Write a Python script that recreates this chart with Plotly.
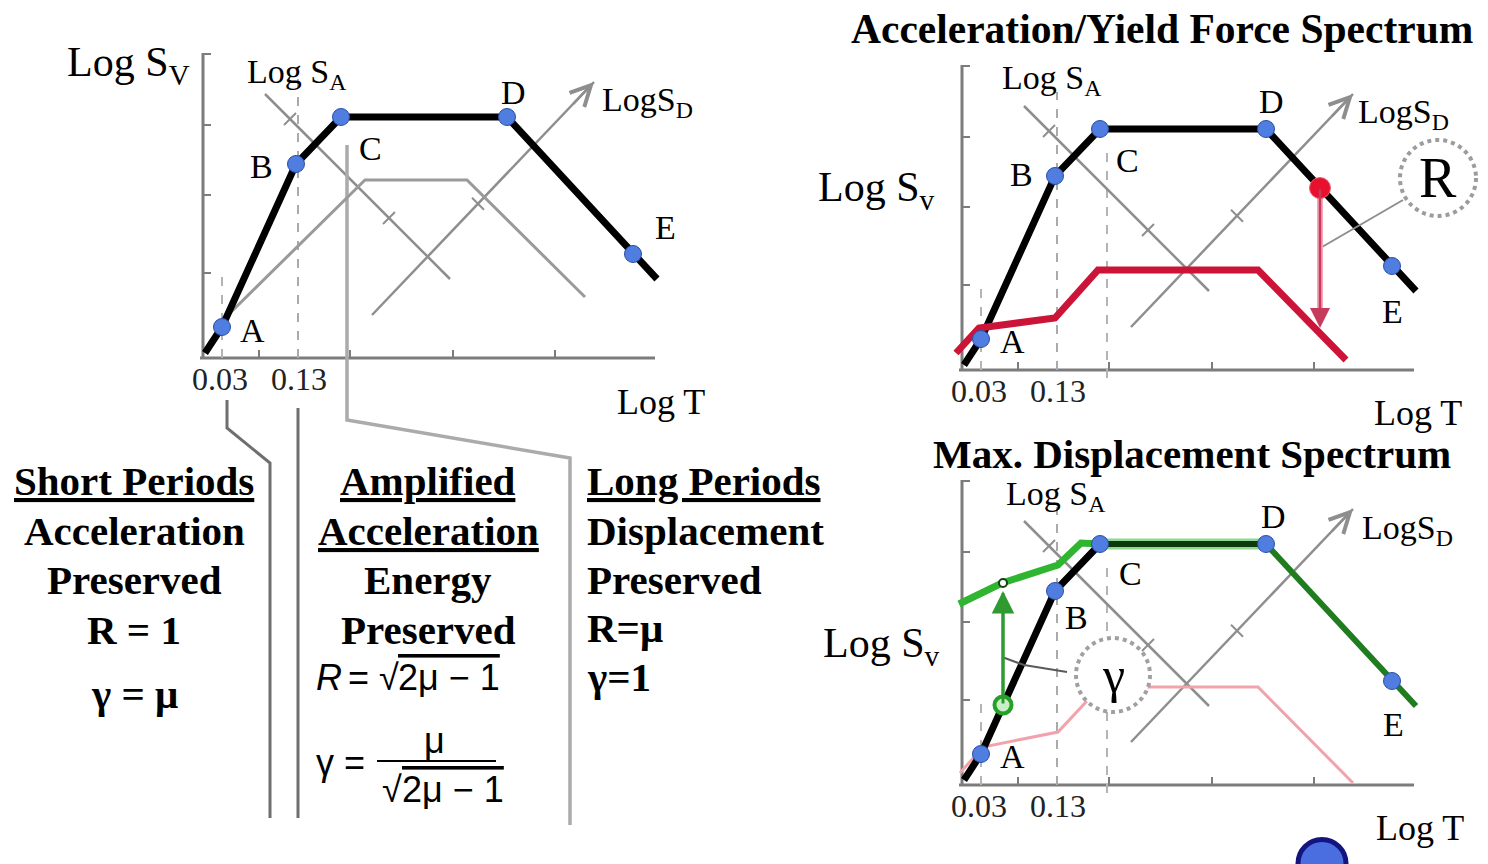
import numpy as np
import plotly.graph_objects as go

W, H, PX = 1488, 864, 100.0
SERIF = "Liberation Serif"
SANS = "Liberation Sans"

# ---------------- data (schematic log-log units) ----------------
# elastic spectrum: start, A, B, C, D, E, end
spec_logT = [0.02, 0.19, 0.93, 1.38, 3.04, 4.30, 4.54]
spec_logSv = [0.05, 0.31, 1.94, 2.41, 2.41, 1.04, 0.79]
corner_names = ["A", "B", "C", "D", "E"]
corner_idx = [1, 2, 3, 4, 5]

# reduced (inelastic) spectrum shown in grey on the left diagram
gray_logT = [0.22, 1.62, 2.64, 3.82]
gray_logSv = [0.40, 1.78, 1.78, 0.61]

# yield force spectrum (red)
red_logT = [-0.06, 0.17, 0.93, 1.36, 2.96, 3.84]
red_logSv = [0.17, 0.42, 0.52, 1.00, 1.00, 0.10]

# same spectrum repeated faintly in the displacement diagram (pink)
pink_logT = [-0.02, 0.21, 0.96, 1.38, 2.96, 3.91]
pink_logSv = [0.12, 0.38, 0.53, 0.98, 0.98, 0.02]

# max displacement spectrum, short-period branch (green)
green_logT = [-0.03, 0.40, 0.96, 1.19, 1.38]
green_logSv = [1.81, 2.02, 2.20, 2.42, 2.41]

# tripartite axes
sa_axis_logT = [0.62, 2.47]
sa_axis_logSv = [2.64, 0.79]
sa_tick_logT = [0.87, 1.86]
sd_axis_logT = [1.69, 3.91]
sd_axis_logSv = [0.43, 2.76]
sd_tick_logT = [2.75]

x_axis_span = [-0.03, 4.52]
y_axis_top = 3.05
x_tick_vals = [0.56, 1.47, 2.50, 3.52]
y_tick_vals = [0.85, 1.63, 2.33, 3.04]
period_tick_vals = [0.17, 0.96]
period_tick_text = ["0.03", "0.13"]
guide_03_logT, guide_03_top = 0.19, 0.85
guide_13_logT, guide_13_top = 0.95, 2.90
guide_C_logT = 1.45

# reduction factor R and amplification factor gamma
R_logT, R_from, R_to = 3.58, 1.82, 0.42
gamma_logT, gamma_from, gamma_to = 0.41, 0.80, 2.02

# period-range brackets under the left diagram
br1_T, br1_S = [0.24, 0.24, 0.67, 0.67], [-0.42, -0.70, -1.05, -4.60]
br2_T, br2_S = [0.95, 0.95], [-0.50, -4.60]
br3_T, br3_S = [1.44, 1.44, 3.67, 3.67], [2.13, -0.62, -1.00, -4.67]

# text of the three period ranges
col1 = ["Short Periods", "Acceleration", "Preserved", "R = 1", "γ = μ"]
col2 = ["Amplified", "Acceleration", "Energy", "Preserved"]
col3 = ["Long Periods", "Displacement", "Preserved", "R=μ", "γ=1"]

# ---------------- panels ----------------
PANELS = {
    "left": dict(ax=("x", "y"), sfx="", origin=(203, 358), box=(0, 0, 790, 864)),
    "acc": dict(ax=("x2", "y2"), sfx="2", origin=(962, 370), box=(790, 0, 1488, 425)),
    "disp": dict(ax=("x3", "y3"), sfx="3", origin=(962, 785), box=(790, 425, 1488, 864)),
}

fig = go.Figure()
lay = {}
for p in PANELS.values():
    ox, oy = p["origin"]
    x0, y0, x1, y1 = p["box"]
    s = p["sfx"]
    lay["xaxis" + s] = dict(domain=[x0 / W, x1 / W], range=[(x0 - ox) / PX, (x1 - ox) / PX],
                            visible=False, fixedrange=True, anchor="y" + s)
    lay["yaxis" + s] = dict(domain=[1 - y1 / H, 1 - y0 / H], range=[(oy - y1) / PX, (oy - y0) / PX],
                            visible=False, fixedrange=True, anchor="x" + s)
fig.update_layout(**lay)

AXIS = "#7c7c7c"
GUIDE = "#8e8e8e"


def lines(p, xs, ys, color, width, dash="solid"):
    xa, ya = PANELS[p]["ax"]
    fig.add_trace(go.Scatter(x=xs, y=ys, mode="lines", xaxis=xa, yaxis=ya,
                             line=dict(color=color, width=width, dash=dash),
                             hoverinfo="skip", showlegend=False))


def markers(p, xs, ys, size, color, lcolor, lwidth, symbol="circle"):
    xa, ya = PANELS[p]["ax"]
    fig.add_trace(go.Scatter(x=xs, y=ys, mode="markers", xaxis=xa, yaxis=ya, cliponaxis=False,
                             marker=dict(size=size, color=color, symbol=symbol,
                                         line=dict(color=lcolor, width=lwidth)),
                             hoverinfo="skip", showlegend=False))


def label(p, x, y, text, size, xanchor="center", yanchor="middle", xshift=0, yshift=0,
          family=SERIF, color="black"):
    xa, ya = PANELS[p]["ax"]
    fig.add_annotation(x=x, y=y, xref=xa, yref=ya, text=text, showarrow=False,
                       font=dict(family=family, size=size, color=color),
                       xanchor=xanchor, yanchor=yanchor, xshift=xshift, yshift=yshift)


def arrow(p, xt, yt, xh, yh, color, width, head, size):
    xa, ya = PANELS[p]["ax"]
    fig.add_annotation(x=xh, y=yh, ax=xt, ay=yt, xref=xa, yref=ya, axref=xa, ayref=ya,
                       text="", showarrow=True, arrowhead=head, arrowsize=size,
                       arrowwidth=width, arrowcolor=color, standoff=0, startstandoff=0)


def paper_text(px, py, text, size, xanchor="center", family=SERIF, weight="normal",
               lineposition="none", style="normal"):
    fig.add_annotation(x=px / W, y=1 - py / H, xref="paper", yref="paper", text=text,
                       showarrow=False,
                       font=dict(family=family, size=size, color="black", weight=weight,
                                 lineposition=lineposition, style=style),
                       xanchor=xanchor, yanchor="middle")


def frame(p, left_style=False):
    # axes
    lines(p, x_axis_span, [0, 0], AXIS, 3)
    lines(p, [0, 0], [0, y_axis_top], AXIS, 3)
    tx, ty = [], []
    for v in x_tick_vals:
        tx += [v, v, None]
        ty += [0, 0.08, None]
    for v in y_tick_vals:
        tx += [0, 0.08, None]
        ty += [v, v, None]
    lines(p, tx, ty, AXIS, 2)
    xa, ya = PANELS[p]["ax"]
    fig.add_trace(go.Scatter(x=period_tick_vals, y=[-0.24] * len(period_tick_vals), mode="text",
                             text=period_tick_text, xaxis=xa, yaxis=ya, cliponaxis=False,
                             textfont=dict(family=SERIF, size=32, color="#222"),
                             hoverinfo="skip", showlegend=False))
    # guide verticals
    lines(p, [guide_03_logT, guide_03_logT], [0, guide_03_top], "#b4b4b4", 2, "dash")
    top13 = guide_13_top if left_style else 2.78
    lines(p, [guide_13_logT, guide_13_logT], [0, top13], "#aaaaaa", 2, "dash")
    if not left_style:
        lines(p, [guide_C_logT, guide_C_logT], [-0.08, 2.18], "#b4b4b4", 2, "dash")
    # tripartite SA / SD axes
    lines(p, sa_axis_logT, sa_axis_logSv, GUIDE, 2.5)
    lines(p, sd_axis_logT, sd_axis_logSv, GUIDE, 2.5)
    ksa = (sa_axis_logSv[1] - sa_axis_logSv[0]) / (sa_axis_logT[1] - sa_axis_logT[0])
    ksd = (sd_axis_logSv[1] - sd_axis_logSv[0]) / (sd_axis_logT[1] - sd_axis_logT[0])
    kx, ky = [], []
    d = 0.06
    for t in sa_tick_logT:
        s = sa_axis_logSv[0] + ksa * (t - sa_axis_logT[0])
        kx += [t - d, t + d, None]
        ky += [s - d, s + d, None]
    for t in sd_tick_logT:
        s = sd_axis_logSv[0] + ksd * (t - sd_axis_logT[0])
        kx += [t - d, t + d, None]
        ky += [s + d, s - d, None]
    lines(p, kx, ky, GUIDE, 2)
    f = 0.9
    arrow(p, sd_axis_logT[0] + f * (sd_axis_logT[1] - sd_axis_logT[0]),
          sd_axis_logSv[0] + f * (sd_axis_logSv[1] - sd_axis_logSv[0]),
          sd_axis_logT[1], sd_axis_logSv[1], GUIDE, 2.5, 5, 1.6)


def corner_labels(p, shifts):
    for name, i in zip(corner_names, corner_idx):
        dx, dy = shifts[name]
        label(p, spec_logT[i], spec_logSv[i], name, 34, xshift=dx, yshift=dy)


def axis_labels(p, sv_pos, sv_sub, sa_pos, sd_pos, t_pos):
    label(p, sv_pos[0], sv_pos[1], "Log S<sub>%s</sub>" % sv_sub, 42, xanchor="right")
    label(p, sa_pos[0], sa_pos[1], "Log S<sub>A</sub>", 34, xanchor="left")
    label(p, sd_pos[0], sd_pos[1], "LogS<sub>D</sub>", 34, xanchor="left")
    label(p, t_pos[0], t_pos[1], "Log T", 36, xanchor="left")


cx = [spec_logT[i] for i in corner_idx]
cy = [spec_logSv[i] for i in corner_idx]
BLUE, BLUE_EDGE = "#4f7de0", "#2b4ea8"

# ================= left diagram =================
frame("left", left_style=True)
lines("left", br3_T, br3_S, "#ababab", 3.5)
lines("left", br1_T, br1_S, "#6f6f6f", 3)
lines("left", br2_T, br2_S, "#6f6f6f", 3)
lines("left", gray_logT, gray_logSv, "#9a9a9a", 3)
lines("left", spec_logT, spec_logSv, "black", 7)
markers("left", cx, cy, 17, BLUE, BLUE_EDGE, 1)
corner_labels("left", {"A": (30, -3), "B": (-35, -2), "C": (29, -31), "D": (6, 25), "E": (32, 27)})
axis_labels("left", (-0.11, 2.93), "V", (0.42, 2.84), (3.97, 2.56), (4.12, -0.44))

# ================= acceleration / yield force spectrum =================
frame("acc")
lines("acc", spec_logT, spec_logSv, "black", 7)
lines("acc", red_logT, red_logSv, "#cc1438", 7)
lines("acc", [4.41, R_logT + 0.02], [1.70, 1.23], GUIDE, 2)
lines("acc", [R_logT, R_logT], [R_from, R_to + 0.1], "#f2a9b8", 6)
arrow("acc", R_logT, R_from, R_logT, R_to, "#c83a5c", 2.5, 2, 1.6)
markers("acc", cx, cy, 17, BLUE, BLUE_EDGE, 1)
markers("acc", [R_logT], [R_from], 21, "#e8112d", "#f06070", 1)
corner_labels("acc", {"A": (31, -2), "B": (-34, 2), "C": (27, -31), "D": (5, 28), "E": (0, -45)})
axis_labels("acc", (-0.25, 1.80), "v", (0.38, 2.90), (3.94, 2.56), (4.10, -0.43))
fig.add_shape(type="circle", xref="x2", yref="y2", x0=4.38, x1=5.14, y0=1.54, y1=2.30,
              line=dict(color="#9c9c9c", width=4, dash="dot"), fillcolor="white", layer="above")
label("acc", 4.76, 1.92, "R", 56)

# ================= max displacement spectrum =================
frame("disp")
lines("disp", pink_logT, pink_logSv, "#f1a3ab", 3)
lines("disp", spec_logT[:4], spec_logSv[:4], "black", 7)
lines("disp", spec_logT[3:5], spec_logSv[3:5], "#8fd88f", 11)
lines("disp", spec_logT[3:5], spec_logSv[3:5], "#0d3a0d", 6)
lines("disp", spec_logT[4:], spec_logSv[4:], "#1f7d1f", 6)
lines("disp", green_logT, green_logSv, "#2fb52f", 7)
lines("disp", [1.05, 0.62, 0.40], [1.13, 1.20, 1.28], "#5a5a5a", 2)
lines("disp", [gamma_logT, gamma_logT], [gamma_from, gamma_to - 0.1], "#2f9a2f", 3)
arrow("disp", gamma_logT, gamma_from, gamma_logT, gamma_to - 0.08, "#2f9a2f", 3, 2, 1.5)
markers("disp", [gamma_logT], [gamma_from], 17, "#c9efc9", "#26a026", 4)
markers("disp", [gamma_logT], [gamma_to], 8, "white", "#114411", 2)
markers("disp", cx, cy, 17, BLUE, BLUE_EDGE, 1)
corner_labels("disp", {"A": (31, -2), "B": (21, -26), "C": (30, -29), "D": (7, 28), "E": (1, -43)})
axis_labels("disp", (-0.20, 1.39), "v", (0.42, 2.89), (3.98, 2.55), (4.12, -0.43))
fig.add_shape(type="circle", xref="x3", yref="y3", x0=1.14, x1=1.88, y0=0.73, y1=1.47,
              line=dict(color="#a0a0a0", width=4, dash="dot"), fillcolor="white", layer="above")
label("disp", 1.51, 1.10, "γ", 50)
markers("disp", [3.60], [-0.785], 48, "#4a6ee0", "#141480", 5)

# ================= titles & text blocks =================
paper_text(1162, 29, "Acceleration/Yield Force Spectrum", 41.5, weight="bold")
paper_text(1192, 454, "Max. Displacement Spectrum", 41, weight="bold")

col1_y = [481, 531, 580, 630, 694]
for i, (t, y) in enumerate(zip(col1, col1_y)):
    paper_text(134, y, t, 41, weight="bold", lineposition="under" if i == 0 else "none")

col2_y = [481, 531, 580, 630]
for i, (t, y) in enumerate(zip(col2, col2_y)):
    paper_text(428, y, t, 41, weight="bold", lineposition="under" if i < 2 else "none")

# R = sqrt(2mu - 1)
paper_text(314, 677, "R", 36, xanchor="left", family=SANS, style="italic")
paper_text(346, 677, "= √", 36, xanchor="left", family=SANS)
paper_text(396, 677, "2μ − 1", 36, xanchor="left", family=SANS, lineposition="over")
# gamma = mu / sqrt(2mu - 1)
paper_text(314, 762, "γ =", 36, xanchor="left", family=SANS)
paper_text(434, 740, "μ", 36, family=SANS)
paper_text(380, 789, "√", 36, xanchor="left", family=SANS)
paper_text(400, 789, "2μ − 1", 36, xanchor="left", family=SANS, lineposition="over")
fig.add_shape(type="line", xref="paper", yref="paper", x0=377 / W, x1=496 / W,
              y0=1 - 761 / H, y1=1 - 761 / H, line=dict(color="black", width=2))

col3_y = [481, 531, 580, 628, 677]
for i, (t, y) in enumerate(zip(col3, col3_y)):
    paper_text(585, y, t, 41, xanchor="left", weight="bold",
               lineposition="under" if i == 0 else "none")

fig.update_layout(width=W, height=H, margin=dict(l=0, r=0, t=0, b=0), autosize=False,
                  paper_bgcolor="white", plot_bgcolor="rgba(0,0,0,0)", showlegend=False)

fig.write_html("out.html", config={"displayModeBar": False},
               post_script="document.body.style.margin='0';document.body.style.overflow='hidden';")
